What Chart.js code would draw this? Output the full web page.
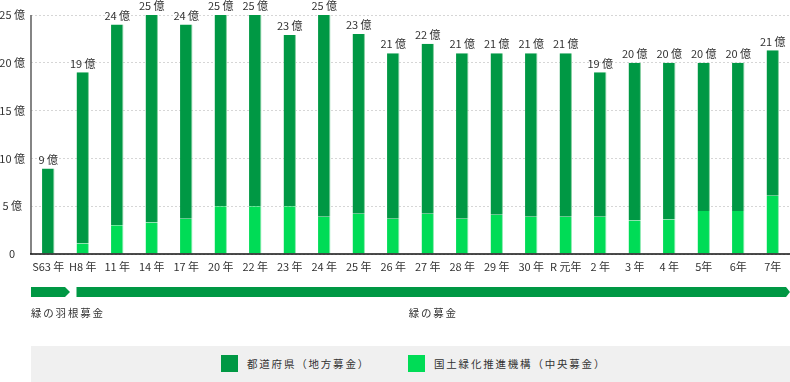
<!DOCTYPE html>
<html><head><meta charset="utf-8">
<script src="https://cdn.jsdelivr.net/npm/chart.js@4.4.1/dist/chart.umd.min.js"></script>
<style>
body{margin:0;background:#fff;}
#wrap{position:relative;width:790px;height:382px;overflow:hidden;}
#c{position:absolute;left:0;top:0;}
#legend{position:absolute;left:31px;top:346px;width:759px;height:36px;background:#f0f0f0;font-family:"Noto Sans CJK JP";font-size:10.5px;color:#333;letter-spacing:1.8px;}
.item{position:absolute;top:9px;height:17px;line-height:17px;}
.sw{position:absolute;left:0;top:0;width:17px;height:17px;}
.lbl{position:absolute;left:26px;top:0;white-space:nowrap;}
</style>
</head><body>
<div id="wrap">
<canvas id="c" width="790" height="346"></canvas>
<div id="legend"></div>
</div>
<script>
// ---- data ----
const categories = ['S63 年','H8 年','11 年','14 年','17 年','20 年','22 年','23 年','24 年','25 年','26 年','27 年','28 年','29 年','30 年','R 元年','2 年','3 年','4 年','5年','6年','7年'];
const totalLabels = [9,19,24,25,24,25,25,23,25,23,21,22,21,21,21,21,19,20,20,20,20,21];
const centralValues = [0,1.1,3.0,3.3,3.7,5.0,5.0,5.0,3.9,4.2,3.7,4.2,3.7,4.1,3.9,3.9,3.9,3.5,3.6,4.5,4.5,6.1];
const localValues = [8.95,17.9,21.0,21.7,20.3,20.0,20.0,17.9,21.1,18.8,17.3,17.8,17.3,16.9,17.1,17.1,15.1,16.5,16.4,15.5,15.5,15.2];
const yTicks = [0,5,10,15,20,25];
const seriesNames = ['都道府県（地方募金）','国土緑化推進機構（中央募金）'];
const periodLabels = ['緑の羽根募金','緑の募金'];
const periodStart = [0,1];   // category index where each period starts

const DARK = '#009844', LIGHT = '#00dc56';
const FONT = '"Noto Sans CJK JP", "Noto Sans", sans-serif';

const totalLabelPlugin = {
  id:'totals',
  afterDatasetsDraw(chart){
    const ctx = chart.ctx;
    const meta = chart.getDatasetMeta(1);
    ctx.save();
    ctx.font = '11px ' + FONT;
    ctx.fillStyle = '#333';
    ctx.textAlign = 'center';
    ctx.textBaseline = 'middle';
    meta.data.forEach((el,i)=>{
      ctx.fillText(totalLabels[i] + ' 億', el.x, el.y - 9);
    });
    ctx.restore();
  }
};

const periodPlugin = {
  id:'periods',
  afterDraw(chart){
    const ctx = chart.ctx, xs = chart.scales.x;
    const half = (xs.getPixelForValue(1) - xs.getPixelForValue(0)) / 2;
    const b = i => xs.getPixelForValue(i) - half;
    const base = chart.chartArea.bottom;
    const yT = base + 33, yB = base + 43, yM = (yT + yB) / 2;
    const arrows = [];
    for (let p = 0; p < periodStart.length; p++) {
      const s = periodStart[p];
      const e = p + 1 < periodStart.length ? periodStart[p+1] : categories.length;
      arrows.push({x0: p === 0 ? b(s) : b(s) + 11, x1: e < categories.length ? b(e) + 4.5 : xs.right, tip: e < categories.length ? 5 : 4});
    }
    ctx.save();
    ctx.fillStyle = DARK;
    arrows.forEach(a=>{
      ctx.beginPath();
      ctx.moveTo(a.x0, yT);
      ctx.lineTo(a.x1 - a.tip, yT);
      ctx.lineTo(a.x1, yM);
      ctx.lineTo(a.x1 - a.tip, yB);
      ctx.lineTo(a.x0, yB);
      ctx.closePath();
      ctx.fill();
    });
    ctx.font = '10.5px ' + FONT;
    ctx.fillStyle = '#333';
    ctx.textBaseline = 'middle';
    try { ctx.letterSpacing = '1.8px'; } catch(e) {}
    arrows.forEach((a,p)=>{
      const ty = base + 59;
      if (p === 0) { ctx.textAlign = 'left'; ctx.fillText(periodLabels[p], a.x0, ty); }
      else { ctx.textAlign = 'center'; ctx.fillText(periodLabels[p], (a.x0 + a.x1) / 2, ty); }
    });
    ctx.restore();
  }
};

const yAxisLinePlugin = {
  id:'yline',
  afterDraw(chart){
    const ctx = chart.ctx, ca = chart.chartArea;
    ctx.save();
    ctx.strokeStyle = '#666';
    ctx.lineWidth = 1.6;
    ctx.beginPath();
    ctx.moveTo(ca.left, ca.top);
    ctx.lineTo(ca.left, ca.bottom);
    ctx.stroke();
    ctx.strokeStyle = '#111';
    ctx.lineWidth = 1.4;
    ctx.beginPath();
    ctx.moveTo(ca.left - 1, ca.bottom);
    ctx.lineTo(ca.right, ca.bottom);
    ctx.stroke();
    ctx.restore();
  }
};

const chart = new Chart(document.getElementById('c'), {
  type:'bar',
  data:{
    labels: categories,
    datasets:[
      {label: seriesNames[1], data: centralValues, backgroundColor: LIGHT, borderColor:'#8aeab0', borderWidth:{top:0,right:1,bottom:0,left:0}, borderSkipped:false, stack:'s'},
      {label: seriesNames[0], data: localValues, backgroundColor: DARK, borderColor:'#7fcc9c', borderWidth:{top:0,right:1,bottom:0,left:0}, borderSkipped:false, stack:'s'}
    ]
  },
  options:{
    responsive:false,
    animation:false,
    devicePixelRatio:1,
    layout:{padding:{top:15,left:0,right:0,bottom:0}},
    plugins:{legend:{display:false}, tooltip:{enabled:false}},
    datasets:{bar:{barPercentage:0.36, categoryPercentage:1}},
    scales:{
      x:{
        stacked:true,
        grid:{display:false, drawTicks:false},
        border:{display:false},
        ticks:{font:{family:FONT,size:11}, color:'#333', padding:6, maxRotation:0, autoSkip:false},
        afterFit(s){ s.height = 92; }
      },
      y:{
        stacked:true,
        min:0, max:25,
        afterBuildTicks(s){ s.ticks = yTicks.map(v=>({value:v})); },
        grid:{color:'#d6d6d6', lineWidth:1, drawTicks:false},
        border:{display:false, dash:[2,2]},
        ticks:{font:{family:FONT,size:11}, color:'#333', padding:6, crossAlign:'center',
               callback:v => v === 0 ? '0' : v + ' 億'},
        afterFit(s){ s.width = 31; }
      }
    }
  },
  plugins:[totalLabelPlugin, periodPlugin, yAxisLinePlugin]
});

// legend built from datasets
const lg = document.getElementById('legend');
const legendItems = [{name: seriesNames[0], color: DARK, left: 190}, {name: seriesNames[1], color: LIGHT, left: 377}];
legendItems.forEach(it=>{
  const d = document.createElement('div');
  d.className = 'item';
  d.style.left = it.left + 'px';
  d.innerHTML = '<div class="sw" style="background:' + it.color + '"></div><div class="lbl">' + it.name + '</div>';
  lg.appendChild(d);
});
</script>
</body></html>
